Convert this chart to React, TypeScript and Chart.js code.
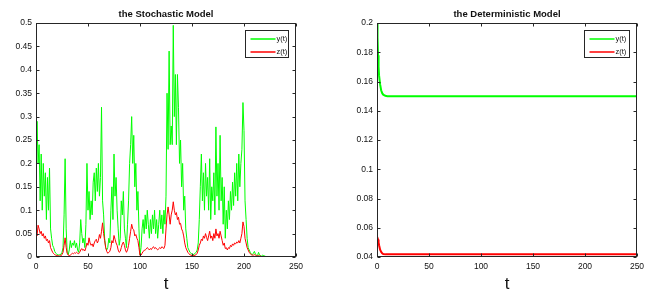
import React, { useEffect, useRef } from "react";
import { Chart, registerables } from "chart.js";

Chart.register(...registerables);

// ---------- data ----------
const stochT: number[] = Array.from({ length: 251 }, (_, i) => i);

const stochY: number[] = [
  0.15, 0.29, 0.2, 0.24, 0.12, 0.22, 0.1, 0.2, 0.13, 0.18,
  0.08, 0.17, 0.1, 0.19, 0.06, 0.04, 0.025, 0.02, 0.012, 0.008,
  0.006, 0.005, 0.004, 0.005, 0.006, 0.01, 0.02, 0.09, 0.21, 0.06,
  0.01, 0.005, 0.015, 0.035, 0.02, 0.03, 0.025, 0.035, 0.02, 0.03,
  0.015, 0.01, 0.03, 0.08, 0.05, 0.03, 0.04, 0.02, 0.07, 0.2,
  0.1, 0.14, 0.08, 0.12, 0.09, 0.16, 0.18, 0.12, 0.19, 0.14,
  0.2, 0.13, 0.17, 0.32, 0.12, 0.09, 0.04, 0.02, 0.015, 0.02,
  0.04, 0.03, 0.1, 0.15, 0.08, 0.22, 0.13, 0.17, 0.1, 0.06,
  0.025, 0.04, 0.12, 0.09, 0.14, 0.06, 0.04, 0.02, 0.07, 0.12,
  0.2, 0.24, 0.3, 0.2, 0.26, 0.15, 0.2, 0.1, 0.14, 0.06,
  0.005, 0.02, 0.06, 0.08, 0.05, 0.09, 0.06, 0.1, 0.07, 0.04,
  0.08, 0.05, 0.09, 0.06, 0.1, 0.05, 0.08, 0.04, 0.07, 0.1,
  0.06, 0.09, 0.05, 0.1, 0.07, 0.13, 0.35, 0.23, 0.44, 0.24,
  0.28, 0.24, 0.495, 0.3, 0.39, 0.24, 0.39, 0.32, 0.2, 0.25,
  0.15, 0.2, 0.1, 0.13, 0.06, 0.04, 0.02, 0.015, 0.01, 0.008,
  0.006, 0.005, 0.006, 0.008, 0.01, 0.015, 0.03, 0.08, 0.15, 0.22,
  0.12, 0.18, 0.1, 0.2, 0.13, 0.17, 0.1, 0.21, 0.08, 0.15,
  0.12, 0.18, 0.09, 0.278, 0.13, 0.2, 0.1, 0.26, 0.12, 0.17,
  0.07, 0.15, 0.04, 0.1, 0.06, 0.12, 0.08, 0.14, 0.1, 0.16,
  0.11, 0.18, 0.13, 0.2, 0.12, 0.22, 0.15, 0.2, 0.23, 0.33,
  0.27, 0.12, 0.08, 0.04, 0.02, 0.015, 0.01, 0.006, 0.005, 0.008,
  0.012, 0.006, 0.004, 0.003, 0.01, 0.004, 0.003, 0.002, 0.004, 0.003,
  0.002, 0.001, 0, 0, 0, 0, 0, 0, 0, 0,
  0, 0, 0, 0, 0, 0, 0, 0, 0, 0,
  0, 0, 0, 0, 0, 0, 0, 0, 0, 0,
  0,
];

const stochZ: number[] = [
  0.05, 0.045, 0.068, 0.06, 0.05, 0.055, 0.045, 0.05, 0.04, 0.045,
  0.035, 0.038, 0.03, 0.035, 0.02, 0.015, 0.01, 0.007, 0.005, 0.004,
  0.003, 0.003, 0.002, 0.002, 0.003, 0.005, 0.01, 0.025, 0.041, 0.02,
  0.008, 0.004, 0.003, 0.004, 0.006, 0.008, 0.007, 0.009, 0.008, 0.01,
  0.008, 0.007, 0.01, 0.015, 0.018, 0.014, 0.016, 0.013, 0.02, 0.03,
  0.025, 0.041, 0.03, 0.025, 0.028, 0.022, 0.03, 0.035, 0.038, 0.03,
  0.035, 0.048, 0.04, 0.055, 0.073, 0.05, 0.035, 0.02, 0.012, 0.008,
  0.01, 0.012, 0.02, 0.035, 0.03, 0.046, 0.038, 0.03, 0.025, 0.015,
  0.01, 0.012, 0.02, 0.028, 0.032, 0.025, 0.015, 0.01, 0.015, 0.025,
  0.04, 0.055, 0.07, 0.06, 0.058, 0.045, 0.048, 0.04, 0.035, 0.02,
  0.003, 0.004, 0.008, 0.012, 0.014, 0.015, 0.017, 0.02, 0.018, 0.015,
  0.018, 0.016, 0.02, 0.022, 0.018, 0.02, 0.017, 0.015, 0.018, 0.02,
  0.018, 0.022, 0.02, 0.018, 0.025, 0.06, 0.09, 0.107, 0.09, 0.07,
  0.09, 0.1, 0.118, 0.1, 0.09, 0.095, 0.08, 0.085, 0.07, 0.072,
  0.06, 0.055, 0.045, 0.03, 0.02, 0.015, 0.01, 0.007, 0.005, 0.004,
  0.003, 0.003, 0.003, 0.004, 0.005, 0.008, 0.015, 0.025, 0.03, 0.038,
  0.035, 0.045, 0.04, 0.05, 0.042, 0.035, 0.045, 0.055, 0.04, 0.045,
  0.035, 0.05, 0.04, 0.06, 0.045, 0.05, 0.04, 0.055, 0.045, 0.035,
  0.025, 0.03, 0.018, 0.02, 0.015, 0.02, 0.018, 0.025, 0.022, 0.028,
  0.025, 0.03, 0.028, 0.032, 0.03, 0.035, 0.03, 0.04, 0.05, 0.075,
  0.065, 0.04, 0.03, 0.02, 0.015, 0.01, 0.007, 0.005, 0.004, 0.004,
  0.005, 0.004, 0.003, 0.002, 0.003, 0.002, 0.002, 0.001, 0.001, 0.001,
  0.001, 0, 0, 0, 0, 0, 0, 0, 0, 0,
  0, 0, 0, 0, 0, 0, 0, 0, 0, 0,
  0, 0, 0, 0, 0, 0, 0, 0, 0, 0,
  0,
];

const detT: number[] = [0, 0.5, 1, 1.5, 2, 3, 4, 5, 6, 8, 10, 250];
const detY: number[] = [0.2, 0.19, 0.178, 0.17, 0.164, 0.158, 0.154, 0.152, 0.151, 0.1502, 0.15, 0.15];
const detZ: number[] = [0.051, 0.053, 0.052, 0.05, 0.048, 0.045, 0.0435, 0.0425, 0.042, 0.0418, 0.0418, 0.0418];

const xTicks: number[] = [0, 50, 100, 150, 200, 250];
const stochYTicks: number[] = [0, 0.05, 0.1, 0.15, 0.2, 0.25, 0.3, 0.35, 0.4, 0.45, 0.5];
const stochYLabels: string[] = ["0", "0.05", "0.1", "0.15", "0.2", "0.25", "0.3", "0.35", "0.4", "0.45", "0.5"];
const detYTicks: number[] = [0.04, 0.06, 0.08, 0.1, 0.12, 0.14, 0.16, 0.18, 0.2];
const detYLabels: string[] = ["0.04", "0.06", "0.08", "0.1", "0.12", "0.14", "0.16", "0.18", "0.2"];

const seriesLabels: string[] = ["y(t)", "z(t)"];
const titles: string[] = ["the Stochastic Model", "the Deterministic Model"];
const xTitle = "t";

const GREEN = "#00ff00";
const RED = "#ff0000";
const INK = "#262626";
const FONT = "'Liberation Sans', Arial, Helvetica, sans-serif";

// ---------- plugin: frame, inward ticks, title, legend ----------
const framePlugin = {
  id: "matlabFrame",
  afterDatasetsDraw(chart: any, _args: any, opts: any) {
    const { ctx, chartArea: a, scales } = chart;
    const L = Math.round(a.left) + 0.5;
    const R = Math.round(a.right) - 0.5;
    const T = Math.round(a.top) + 0.5;
    const B = Math.round(a.bottom) - 0.5;
    ctx.save();
    ctx.strokeStyle = INK;
    ctx.lineWidth = 1;
    ctx.strokeRect(L, T, R - L, B - T);
    const tl = 3;
    ctx.beginPath();
    for (const t of scales.x.ticks) {
      const px = Math.round(scales.x.getPixelForValue(t.value)) + 0.5;
      ctx.moveTo(px, B);
      ctx.lineTo(px, B - tl);
      ctx.moveTo(px, T);
      ctx.lineTo(px, T + tl);
    }
    for (const t of scales.y.ticks) {
      const py = Math.round(scales.y.getPixelForValue(t.value)) + 0.5;
      ctx.moveTo(L, py);
      ctx.lineTo(L + tl, py);
      ctx.moveTo(R, py);
      ctx.lineTo(R - tl, py);
    }
    ctx.stroke();

    // title
    ctx.fillStyle = "#111";
    ctx.font = `bold 9.5px ${FONT}`;
    ctx.textAlign = "center";
    ctx.textBaseline = "middle";
    ctx.fillText(opts.title, (a.left + a.right) / 2, 14);

    // legend
    const w = opts.legendWidth;
    const h = 27;
    const bx = Math.round(a.right - 8 - w) + 0.5;
    const by = Math.round(a.top + 7) + 0.5;
    ctx.fillStyle = "#fff";
    ctx.fillRect(bx, by, w, h);
    ctx.strokeStyle = INK;
    ctx.lineWidth = 1;
    ctx.strokeRect(bx, by, w, h);
    ctx.font = `7.5px ${FONT}`;
    ctx.textAlign = "left";
    chart.data.datasets.forEach((ds: any, i: number) => {
      const ly = by + 8.5 + i * 13;
      ctx.strokeStyle = ds.borderColor;
      ctx.lineWidth = 1.5;
      ctx.beginPath();
      ctx.moveTo(bx + 5, ly);
      ctx.lineTo(bx + 30, ly);
      ctx.stroke();
      ctx.fillStyle = "#111";
      ctx.fillText(ds.label, bx + 31, ly);
    });
    ctx.restore();
  },
};

type PanelProps = {
  t: number[];
  y: number[];
  z: number[];
  yMin: number;
  yMax: number;
  yTicks: number[];
  yLabels: string[];
  title: string;
  axisWidth: number;
  padRight: number;
  lineWidth: number;
  legendWidth: number;
  left: number;
};

function Panel(p: PanelProps) {
  const ref = useRef<HTMLCanvasElement | null>(null);
  useEffect(() => {
    if (!ref.current) return;
    const tickFont = { family: FONT, size: 8.5 };
    const chart = new Chart(ref.current, {
      type: "line",
      data: {
        datasets: [
          {
            label: seriesLabels[0],
            data: p.t.map((tv, i) => ({ x: tv, y: p.y[i] })),
            borderColor: GREEN,
            backgroundColor: GREEN,
            borderWidth: p.lineWidth,
            pointRadius: 0,
            tension: 0,
            order: 1,
          },
          {
            label: seriesLabels[1],
            data: p.t.map((tv, i) => ({ x: tv, y: p.z[i] })),
            borderColor: RED,
            backgroundColor: RED,
            borderWidth: p.lineWidth,
            pointRadius: 0,
            tension: 0,
            order: 0,
          },
        ],
      },
      options: {
        responsive: false,
        animation: false,
        events: [],
        layout: { padding: { top: 23, right: p.padRight, left: 0, bottom: 0 } },
        plugins: {
          legend: { display: false },
          title: { display: false },
          tooltip: { enabled: false },
          matlabFrame: { title: p.title, legendWidth: p.legendWidth },
        } as any,
        scales: {
          x: {
            type: "linear",
            min: 0,
            max: 250,
            grid: { display: false, drawTicks: false },
            border: { display: false },
            afterBuildTicks: (s: any) => {
              s.ticks = xTicks.map((v) => ({ value: v }));
            },
            afterFit: (s: any) => {
              s.height = 44;
            },
            ticks: {
              font: tickFont,
              color: "#111",
              padding: 5,
              maxRotation: 0,
              autoSkip: false,
              callback: (v: any) => String(v),
            },
            title: {
              display: true,
              text: xTitle,
              font: { family: FONT, size: 17 },
              color: "#111",
              padding: { top: 0, bottom: 6 },
            },
          },
          y: {
            type: "linear",
            min: p.yMin,
            max: p.yMax,
            grid: { display: false, drawTicks: false },
            border: { display: false },
            afterBuildTicks: (s: any) => {
              s.ticks = p.yTicks.map((v) => ({ value: v }));
            },
            afterFit: (s: any) => {
              s.width = p.axisWidth;
            },
            ticks: {
              font: tickFont,
              color: "#111",
              padding: 4,
              autoSkip: false,
              callback: (_v: any, idx: number) => p.yLabels[idx],
            },
          },
        },
      },
      plugins: [framePlugin as any],
    });
    return () => chart.destroy();
  }, []);
  return (
    <canvas
      ref={ref}
      width={330}
      height={301}
      style={{ position: "absolute", left: p.left, top: 0, width: 330, height: 301 }}
    />
  );
}

export default function App() {
  return (
    <div
      style={{
        position: "absolute",
        left: 0,
        top: 0,
        width: 660,
        height: 301,
        background: "#fff",
        overflow: "hidden",
      }}
    >
      <Panel
        t={stochT}
        y={stochY}
        z={stochZ}
        yMin={0}
        yMax={0.5}
        yTicks={stochYTicks}
        yLabels={stochYLabels}
        title={titles[0]}
        axisWidth={36}
        padRight={34}
        lineWidth={1}
        legendWidth={43}
        left={0}
      />
      <Panel
        t={detT}
        y={detY}
        z={detZ}
        yMin={0.04}
        yMax={0.2}
        yTicks={detYTicks}
        yLabels={detYLabels}
        title={titles[1]}
        axisWidth={47}
        padRight={23}
        lineWidth={2}
        legendWidth={45}
        left={330}
      />
    </div>
  );
}
